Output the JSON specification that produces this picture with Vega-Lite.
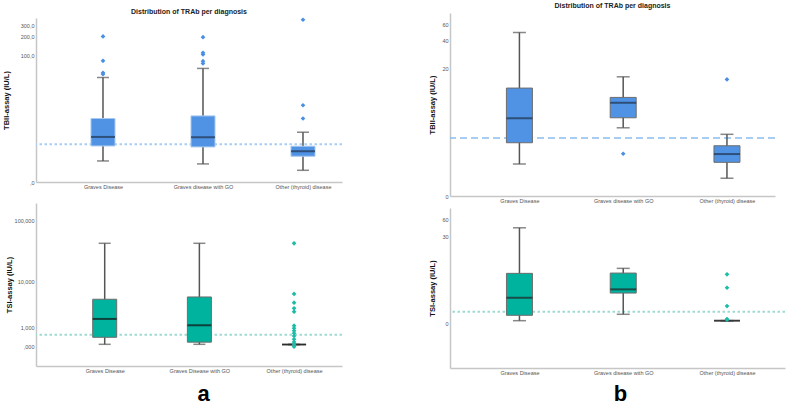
{
  "$schema": "https://vega.github.io/schema/vega-lite/v6.json",
  "padding": {"left": 2, "top": 2, "right": 2, "bottom": 0},
  "background": "white",
  "datasets": {
    "boxes": [
      {"panel": "A1", "diagnosis": "Graves Disease", "lower": 1.15, "q1": 2.71, "median": 4.15, "q3": 9.06, "upper": 43.7},
      {"panel": "A1", "diagnosis": "Graves disease with GO", "lower": 0.93, "q1": 2.58, "median": 4.09, "q3": 10.06, "upper": 61.2},
      {"panel": "A1", "diagnosis": "Other (thyroid) disease", "lower": 0.53, "q1": 1.55, "median": 2.06, "q3": 2.67, "upper": 5.11},
      {"panel": "A2", "diagnosis": "Graves Disease", "lower": 0.1, "q1": 0.42, "median": 1.77, "q3": 4.67, "upper": 42.4},
      {"panel": "A2", "diagnosis": "Graves Disease with GO", "lower": 0.1, "q1": 0.19, "median": 1.2, "q3": 5.16, "upper": 42.4},
      {"panel": "A2", "diagnosis": "Other (thyroid) disease", "lower": 0.09, "q1": 0.09, "median": 0.09, "q3": 0.09, "upper": 0.09},
      {"panel": "B1", "diagnosis": "Graves Disease", "lower": 1.15, "q1": 2.58, "median": 5.42, "q3": 12.25, "upper": 49.2},
      {"panel": "B1", "diagnosis": "Graves disease with GO", "lower": 4.12, "q1": 5.51, "median": 8.32, "q3": 9.6, "upper": 16.36},
      {"panel": "B1", "diagnosis": "Other (thyroid) disease", "lower": 0.53, "q1": 1.24, "median": 1.73, "q3": 2.33, "upper": 3.38},
      {"panel": "B2", "diagnosis": "Graves Disease", "lower": 0.125, "q1": 0.39, "median": 1.77, "q3": 6.22, "upper": 42.2},
      {"panel": "B2", "diagnosis": "Graves disease with GO", "lower": 0.446, "q1": 2.33, "median": 2.85, "q3": 6.3, "upper": 7.78},
      {"panel": "B2", "diagnosis": "Other (thyroid) disease", "lower": 0.125, "q1": 0.125, "median": 0.125, "q3": 0.125, "upper": 0.125}
    ],
    "outliers": [
      {"panel": "A1", "diagnosis": "Graves Disease", "value": 198},
      {"panel": "A1", "diagnosis": "Graves Disease", "value": 80.9},
      {"panel": "A1", "diagnosis": "Graves Disease", "value": 52},
      {"panel": "A1", "diagnosis": "Graves Disease", "value": 49.5},
      {"panel": "A1", "diagnosis": "Graves disease with GO", "value": 193},
      {"panel": "A1", "diagnosis": "Graves disease with GO", "value": 108.7},
      {"panel": "A1", "diagnosis": "Graves disease with GO", "value": 102.5},
      {"panel": "A1", "diagnosis": "Graves disease with GO", "value": 80},
      {"panel": "A1", "diagnosis": "Graves disease with GO", "value": 73.6},
      {"panel": "A1", "diagnosis": "Other (thyroid) disease", "value": 364},
      {"panel": "A1", "diagnosis": "Other (thyroid) disease", "value": 15.3},
      {"panel": "A1", "diagnosis": "Other (thyroid) disease", "value": 9.06},
      {"panel": "A2", "diagnosis": "Other (thyroid) disease", "value": 42.4},
      {"panel": "A2", "diagnosis": "Other (thyroid) disease", "value": 5.87},
      {"panel": "A2", "diagnosis": "Other (thyroid) disease", "value": 4.01},
      {"panel": "A2", "diagnosis": "Other (thyroid) disease", "value": 3.08},
      {"panel": "A2", "diagnosis": "Other (thyroid) disease", "value": 2.61},
      {"panel": "A2", "diagnosis": "Other (thyroid) disease", "value": 1.17},
      {"panel": "A2", "diagnosis": "Other (thyroid) disease", "value": 0.974},
      {"panel": "A2", "diagnosis": "Other (thyroid) disease", "value": 0.81},
      {"panel": "A2", "diagnosis": "Other (thyroid) disease", "value": 0.646},
      {"panel": "A2", "diagnosis": "Other (thyroid) disease", "value": 0.49},
      {"panel": "A2", "diagnosis": "Other (thyroid) disease", "value": 0.323},
      {"panel": "A2", "diagnosis": "Other (thyroid) disease", "value": 0.2},
      {"panel": "A2", "diagnosis": "Other (thyroid) disease", "value": 0.103},
      {"panel": "A2", "diagnosis": "Other (thyroid) disease", "value": 0.011},
      {"panel": "B1", "diagnosis": "Graves disease with GO", "value": 1.75},
      {"panel": "B1", "diagnosis": "Other (thyroid) disease", "value": 15.3},
      {"panel": "B2", "diagnosis": "Other (thyroid) disease", "value": 5.94},
      {"panel": "B2", "diagnosis": "Other (thyroid) disease", "value": 3.1},
      {"panel": "B2", "diagnosis": "Other (thyroid) disease", "value": 1.0},
      {"panel": "B2", "diagnosis": "Other (thyroid) disease", "value": 0.2},
      {"panel": "B2", "diagnosis": "Other (thyroid) disease", "value": 0.17}
    ],
    "refs": [
      {"panel": "A1", "value": 2.95},
      {"panel": "A2", "value": 0.56},
      {"panel": "B1", "value": 3.0},
      {"panel": "B2", "value": 0.6}
    ]
  },
  "config": {
    "view": {"stroke": null},
    "font": "Liberation Sans",
    "axis": {
      "grid": false, "ticks": false, "domainColor": "#c6c6c6", "domainWidth": 1.5,
      "labelFont": "Liberation Sans", "labelFontSize": 5.5, "labelColor": "#555", "labelPadding": 2,
      "titleFont": "Liberation Sans", "titleFontSize": 7.5, "titleFontWeight": "bold", "titleColor": "#111"
    },
    "title": {"font": "Liberation Sans", "fontSize": 7, "fontWeight": "bold", "color": "#222", "anchor": "middle"}
  },
  "spacing": 85,
  "resolve": {"scale": {"x": "independent", "y": "independent"}},
  "hconcat": [
    {
      "spacing": 13,
      "resolve": {"scale": {"x": "independent", "y": "independent"}},
      "vconcat": [
        {
          "width": 306, "height": 169,
          "title": {"text": "Distribution of TRAb per diagnosis", "offset": -2},
          "layer": [
            {"data": {"name": "refs"}, "transform": [{"filter": "datum.panel == 'A1'"}],
             "mark": {"type": "rule", "color": "#a9cdf3", "strokeWidth": 2, "strokeDash": [2.5, 2.5]},
             "encoding": {"y": {"field": "value", "type": "quantitative", "title": "TBII-assay (IU/L)", "scale": {"type": "symlog", "constant": 1, "domain": [0, 388], "range": [169, 5], "nice": false, "zero": false}, "axis": {"values": [0, 100, 200, 300], "labelExpr": "datum.value == 0 ? ',0' : replace(format(datum.value, '.1f'), '.', ',')", "titlePadding": 10}}}},
            {"data": {"name": "boxes"}, "transform": [{"filter": "datum.panel == 'A1'"}],
             "mark": {"type": "rule", "color": "#555", "strokeWidth": 1.5},
             "encoding": {
               "x": {"field": "diagnosis", "type": "nominal", "title": null, "scale": {"type": "point", "padding": 0.53, "align": 0.632, "domain": ["Graves Disease", "Graves disease with GO", "Other (thyroid) disease"]}, "axis": {"labelAngle": 0}},
               "y": {"field": "lower", "type": "quantitative", "title": "TBII-assay (IU/L)"}, "y2": {"field": "upper"}}},
            {"data": {"name": "boxes"}, "transform": [{"filter": "datum.panel == 'A1'"}],
             "mark": {"type": "tick", "color": "#555", "size": 12, "thickness": 1.5},
             "encoding": {"x": {"field": "diagnosis", "type": "nominal", "title": null}, "y": {"field": "upper", "type": "quantitative", "title": "TBII-assay (IU/L)"}}},
            {"data": {"name": "boxes"}, "transform": [{"filter": "datum.panel == 'A1'"}],
             "mark": {"type": "tick", "color": "#555", "size": 12, "thickness": 1.5},
             "encoding": {"x": {"field": "diagnosis", "type": "nominal", "title": null}, "y": {"field": "lower", "type": "quantitative", "title": "TBII-assay (IU/L)"}}},
            {"data": {"name": "boxes"}, "transform": [{"filter": "datum.panel == 'A1'"}],
             "mark": {"type": "bar", "size": 24, "color": "#5093e4", "stroke": "#a8c8ee", "strokeWidth": 1},
             "encoding": {"x": {"field": "diagnosis", "type": "nominal", "title": null}, "y": {"field": "q1", "type": "quantitative", "title": "TBII-assay (IU/L)"}, "y2": {"field": "q3"}}},
            {"data": {"name": "boxes"}, "transform": [{"filter": "datum.panel == 'A1'"}],
             "mark": {"type": "tick", "color": "#1f324d", "size": 24, "thickness": 2},
             "encoding": {"x": {"field": "diagnosis", "type": "nominal", "title": null}, "y": {"field": "median", "type": "quantitative", "title": "TBII-assay (IU/L)"}}},
            {"data": {"name": "outliers"}, "transform": [{"filter": "datum.panel == 'A1'"}],
             "mark": {"type": "point", "shape": "diamond", "filled": true, "size": 22, "color": "#4a8fe2", "opacity": 1},
             "encoding": {"x": {"field": "diagnosis", "type": "nominal", "title": null}, "y": {"field": "value", "type": "quantitative", "title": "TBII-assay (IU/L)"}}}
          ]
        },
        {
          "width": 306, "height": 163,
          "layer": [
            {"data": {"name": "refs"}, "transform": [{"filter": "datum.panel == 'A2'"}],
             "mark": {"type": "rule", "color": "#9edcd2", "strokeWidth": 2, "strokeDash": [2.5, 2.5]},
             "encoding": {"y": {"field": "value", "type": "quantitative", "title": "TSI-assay (IU/L)", "scale": {"type": "symlog", "constant": 1, "domain": [-1, 187], "nice": false, "zero": false}, "axis": {"values": [0, 1, 10, 100], "labelExpr": "datum.value == 0 ? ',000' : replace(format(datum.value, '.3f'), '.', ',')", "titlePadding": 1}}}},
            {"data": {"name": "boxes"}, "transform": [{"filter": "datum.panel == 'A2'"}],
             "mark": {"type": "rule", "color": "#555", "strokeWidth": 1.5},
             "encoding": {
               "x": {"field": "diagnosis", "type": "nominal", "title": "a", "scale": {"type": "point", "padding": 0.616, "align": 0.589, "domain": ["Graves Disease", "Graves Disease with GO", "Other (thyroid) disease"]}, "axis": {"labelAngle": 0, "titleFontSize": 22, "titleFontWeight": "bold", "titleColor": "#000", "titlePadding": 10, "titleX": 167}},
               "y": {"field": "lower", "type": "quantitative", "title": "TSI-assay (IU/L)"}, "y2": {"field": "upper"}}},
            {"data": {"name": "boxes"}, "transform": [{"filter": "datum.panel == 'A2'"}],
             "mark": {"type": "tick", "color": "#555", "size": 12, "thickness": 1.5},
             "encoding": {"x": {"field": "diagnosis", "type": "nominal", "title": "a"}, "y": {"field": "upper", "type": "quantitative", "title": "TSI-assay (IU/L)"}}},
            {"data": {"name": "boxes"}, "transform": [{"filter": "datum.panel == 'A2'"}],
             "mark": {"type": "tick", "color": "#555", "size": 12, "thickness": 1.5},
             "encoding": {"x": {"field": "diagnosis", "type": "nominal", "title": "a"}, "y": {"field": "lower", "type": "quantitative", "title": "TSI-assay (IU/L)"}}},
            {"data": {"name": "boxes"}, "transform": [{"filter": "datum.panel == 'A2'"}],
             "mark": {"type": "bar", "size": 24, "color": "#00b39f", "stroke": "#6d6d6d", "strokeWidth": 1},
             "encoding": {"x": {"field": "diagnosis", "type": "nominal", "title": "a"}, "y": {"field": "q1", "type": "quantitative", "title": "TSI-assay (IU/L)"}, "y2": {"field": "q3"}}},
            {"data": {"name": "boxes"}, "transform": [{"filter": "datum.panel == 'A2'"}],
             "mark": {"type": "tick", "color": "#111", "size": 24, "thickness": 2},
             "encoding": {"x": {"field": "diagnosis", "type": "nominal", "title": "a"}, "y": {"field": "median", "type": "quantitative", "title": "TSI-assay (IU/L)"}}},
            {"data": {"name": "outliers"}, "transform": [{"filter": "datum.panel == 'A2'"}],
             "mark": {"type": "point", "shape": "diamond", "filled": true, "size": 22, "color": "#1cbca7", "opacity": 1},
             "encoding": {"x": {"field": "diagnosis", "type": "nominal", "title": "a"}, "y": {"field": "value", "type": "quantitative", "title": "TSI-assay (IU/L)"}}}
          ]
        }
      ]
    },
    {
      "spacing": 4,
      "resolve": {"scale": {"x": "independent", "y": "independent"}},
      "vconcat": [
        {
          "width": 325, "height": 183,
          "title": {"text": "Distribution of TRAb per diagnosis", "offset": 4},
          "layer": [
            {"data": {"name": "refs"}, "transform": [{"filter": "datum.panel == 'B1'"}],
             "mark": {"type": "rule", "color": "#8bbdf0", "strokeWidth": 1.5, "strokeDash": [7, 4]},
             "encoding": {"y": {"field": "value", "type": "quantitative", "title": "TBII-assay (IU/L)", "scale": {"type": "symlog", "constant": 1, "domain": [0, 79], "nice": false, "zero": false}, "axis": {"values": [0, 20, 40, 60], "titlePadding": 5}}}},
            {"data": {"name": "boxes"}, "transform": [{"filter": "datum.panel == 'B1'"}],
             "mark": {"type": "rule", "color": "#555", "strokeWidth": 1.5},
             "encoding": {
               "x": {"field": "diagnosis", "type": "nominal", "title": null, "scale": {"type": "point", "padding": 0.566, "align": 0.591, "domain": ["Graves Disease", "Graves disease with GO", "Other (thyroid) disease"]}, "axis": {"labelAngle": 0}},
               "y": {"field": "lower", "type": "quantitative", "title": "TBII-assay (IU/L)"}, "y2": {"field": "upper"}}},
            {"data": {"name": "boxes"}, "transform": [{"filter": "datum.panel == 'B1'"}],
             "mark": {"type": "tick", "color": "#555", "size": 13, "thickness": 1.5},
             "encoding": {"x": {"field": "diagnosis", "type": "nominal", "title": null}, "y": {"field": "upper", "type": "quantitative", "title": "TBII-assay (IU/L)"}}},
            {"data": {"name": "boxes"}, "transform": [{"filter": "datum.panel == 'B1'"}],
             "mark": {"type": "tick", "color": "#555", "size": 13, "thickness": 1.5},
             "encoding": {"x": {"field": "diagnosis", "type": "nominal", "title": null}, "y": {"field": "lower", "type": "quantitative", "title": "TBII-assay (IU/L)"}}},
            {"data": {"name": "boxes"}, "transform": [{"filter": "datum.panel == 'B1'"}],
             "mark": {"type": "bar", "size": 26, "color": "#5093e4", "stroke": "#6d6d6d", "strokeWidth": 1},
             "encoding": {"x": {"field": "diagnosis", "type": "nominal", "title": null}, "y": {"field": "q1", "type": "quantitative", "title": "TBII-assay (IU/L)"}, "y2": {"field": "q3"}}},
            {"data": {"name": "boxes"}, "transform": [{"filter": "datum.panel == 'B1'"}],
             "mark": {"type": "tick", "color": "#1f324d", "size": 26, "thickness": 2},
             "encoding": {"x": {"field": "diagnosis", "type": "nominal", "title": null}, "y": {"field": "median", "type": "quantitative", "title": "TBII-assay (IU/L)"}}},
            {"data": {"name": "outliers"}, "transform": [{"filter": "datum.panel == 'B1'"}],
             "mark": {"type": "point", "shape": "diamond", "filled": true, "size": 22, "color": "#4a8fe2", "opacity": 1},
             "encoding": {"x": {"field": "diagnosis", "type": "nominal", "title": null}, "y": {"field": "value", "type": "quantitative", "title": "TBII-assay (IU/L)"}}}
          ]
        },
        {
          "width": 335, "height": 160,
          "layer": [
            {"data": {"name": "refs"}, "transform": [{"filter": "datum.panel == 'B2'"}],
             "mark": {"type": "rule", "color": "#9edcd2", "strokeWidth": 2, "strokeDash": [2.5, 2.5]},
             "encoding": {"y": {"field": "value", "type": "quantitative", "title": "TSI-assay (IU/L)", "scale": {"type": "symlog", "constant": 1, "domain": [-4.7, 93], "nice": false, "zero": false}, "axis": {"values": [0, 30, 60], "titlePadding": 5}}}},
            {"data": {"name": "boxes"}, "transform": [{"filter": "datum.panel == 'B2'"}],
             "mark": {"type": "rule", "color": "#555", "strokeWidth": 1.5},
             "encoding": {
               "x": {"field": "diagnosis", "type": "nominal", "title": "b", "scale": {"type": "point", "padding": 0.614, "align": 0.545, "domain": ["Graves Disease", "Graves disease with GO", "Other (thyroid) disease"]}, "axis": {"labelAngle": 0, "titleFontSize": 22, "titleFontWeight": "bold", "titleColor": "#000", "titlePadding": 8, "titleX": 170}},
               "y": {"field": "lower", "type": "quantitative", "title": "TSI-assay (IU/L)"}, "y2": {"field": "upper"}}},
            {"data": {"name": "boxes"}, "transform": [{"filter": "datum.panel == 'B2'"}],
             "mark": {"type": "tick", "color": "#555", "size": 13, "thickness": 1.5},
             "encoding": {"x": {"field": "diagnosis", "type": "nominal", "title": "b"}, "y": {"field": "upper", "type": "quantitative", "title": "TSI-assay (IU/L)"}}},
            {"data": {"name": "boxes"}, "transform": [{"filter": "datum.panel == 'B2'"}],
             "mark": {"type": "tick", "color": "#555", "size": 13, "thickness": 1.5},
             "encoding": {"x": {"field": "diagnosis", "type": "nominal", "title": "b"}, "y": {"field": "lower", "type": "quantitative", "title": "TSI-assay (IU/L)"}}},
            {"data": {"name": "boxes"}, "transform": [{"filter": "datum.panel == 'B2'"}],
             "mark": {"type": "bar", "size": 26, "color": "#00b39f", "stroke": "#6d6d6d", "strokeWidth": 1},
             "encoding": {"x": {"field": "diagnosis", "type": "nominal", "title": "b"}, "y": {"field": "q1", "type": "quantitative", "title": "TSI-assay (IU/L)"}, "y2": {"field": "q3"}}},
            {"data": {"name": "boxes"}, "transform": [{"filter": "datum.panel == 'B2'"}],
             "mark": {"type": "tick", "color": "#222", "size": 26, "thickness": 2},
             "encoding": {"x": {"field": "diagnosis", "type": "nominal", "title": "b"}, "y": {"field": "median", "type": "quantitative", "title": "TSI-assay (IU/L)"}}},
            {"data": {"name": "outliers"}, "transform": [{"filter": "datum.panel == 'B2'"}],
             "mark": {"type": "point", "shape": "diamond", "filled": true, "size": 22, "color": "#1cbca7", "opacity": 1},
             "encoding": {"x": {"field": "diagnosis", "type": "nominal", "title": "b"}, "y": {"field": "value", "type": "quantitative", "title": "TSI-assay (IU/L)"}}}
          ]
        }
      ]
    }
  ]
}
